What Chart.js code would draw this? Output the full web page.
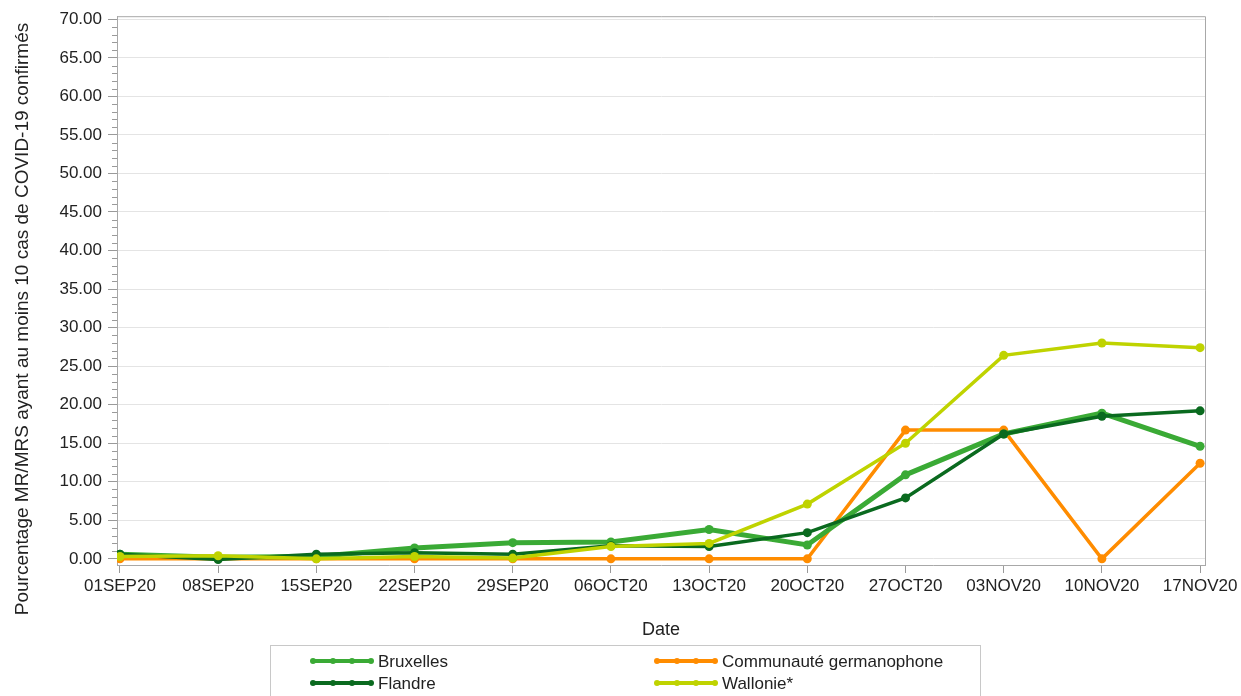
<!DOCTYPE html>
<html>
<head>
<meta charset="utf-8">
<script src="https://cdn.jsdelivr.net/npm/chart.js@4.4.1/dist/chart.umd.min.js"></script>
<style>
html,body{margin:0;padding:0;background:#fff;}
#wrap{position:relative;width:1241px;height:696px;}
</style>
</head>
<body>
<div id="wrap"><canvas id="c" width="1241" height="696"></canvas></div>
<script>
const categories = ['01SEP20','08SEP20','15SEP20','22SEP20','29SEP20','06OCT20','13OCT20','20OCT20','27OCT20','03NOV20','10NOV20','17NOV20'];
const bruxelles    = [0.6, 0.2, 0.3, 1.4, 2.1, 2.2, 3.8, 1.8, 10.9, 16.2, 18.9, 14.6];
const flandre      = [0.6, -0.1, 0.6, 0.8, 0.6, 1.7, 1.6, 3.4, 7.9, 16.2, 18.5, 19.2];
const germanophone = [0.0, 0.0, 0.0, 0.0, 0.0, 0.0, 0.0, 0.0, 16.7, 16.7, 0.0, 12.4];
const wallonie     = [0.3, 0.4, 0.0, 0.3, 0.1, 1.6, 2.0, 7.1, 15.0, 26.4, 28.0, 27.4];
const yTicks = [0,5,10,15,20,25,30,35,40,45,50,55,60,65,70];
const seriesNames = ['Bruxelles','Flandre','Communauté germanophone','Wallonie*'];
const yTitle = 'Pourcentage MR/MRS ayant au moins 10 cas de COVID-19 confirmés';
const xTitle = 'Date';

const FONT = '"Liberation Sans", Arial, sans-serif';
const C_BRU = '#3aaa35', C_FLA = '#0a6a1f', C_GER = '#ff8c00', C_WAL = '#bfd300';

function pts(arr){ return arr.map((v,i)=>({x:i,y:v})); }

const frame = {
  id:'frame',
  beforeDatasetsDraw(chart){
    const {ctx, chartArea:a, scales:{y}} = chart;
    ctx.save();
    ctx.strokeStyle = '#a8a8a8'; ctx.lineWidth = 1;
    ctx.beginPath();
    ctx.moveTo(a.left, a.top+0.5); ctx.lineTo(a.right+0.5, a.top+0.5); ctx.lineTo(a.right+0.5, a.bottom);
    ctx.stroke();
    ctx.strokeStyle = '#9a9a9a';
    ctx.beginPath();
    for(let v=0; v<=70; v++){
      if(v%5===0) continue;
      const py = Math.round(y.getPixelForValue(v))+0.5;
      ctx.moveTo(a.left-5, py); ctx.lineTo(a.left, py);
    }
    ctx.stroke();
    ctx.restore();
  },
  afterDraw(chart){
    const ctx = chart.ctx;
    ctx.save();
    ctx.translate(23, 319);
    ctx.rotate(-Math.PI/2);
    ctx.fillStyle = '#222';
    ctx.font = '19px ' + FONT;
    ctx.textAlign = 'center'; ctx.textBaseline = 'middle';
    ctx.fillText(yTitle, 0, 0);
    ctx.restore();
    ctx.save();
    ctx.strokeStyle = '#c8c8c8'; ctx.lineWidth = 1;
    ctx.strokeRect(270.5, 645.5, 710, 60);
    const ds = chart.data.datasets;
    const entries = [
      {i:0, x:313, y:661}, {i:2, x:657, y:661},
      {i:1, x:313, y:683}, {i:3, x:657, y:683}
    ];
    ctx.font = '17px ' + FONT;
    ctx.textBaseline = 'middle'; ctx.textAlign = 'left';
    entries.forEach(e=>{
      const d = ds[e.i];
      ctx.strokeStyle = d.borderColor; ctx.fillStyle = d.borderColor;
      ctx.lineWidth = 4; ctx.lineCap = 'round';
      ctx.beginPath(); ctx.moveTo(e.x, e.y); ctx.lineTo(e.x+58, e.y); ctx.stroke();
      [0, 20, 39, 58].forEach(dx=>{ ctx.beginPath(); ctx.arc(e.x+dx, e.y, 3, 0, Math.PI*2); ctx.fill(); });
      ctx.fillStyle = '#222';
      ctx.fillText(d.label, e.x+65, e.y+1);
    });
    ctx.restore();
  }
};

new Chart(document.getElementById('c'), {
  type:'line',
  data:{
    datasets:[
      {label:seriesNames[0], data:pts(bruxelles), borderColor:C_BRU, backgroundColor:C_BRU, borderWidth:5, pointRadius:4.5, pointBackgroundColor:C_BRU, pointBorderWidth:0, order:3},
      {label:seriesNames[1], data:pts(flandre), borderColor:C_FLA, backgroundColor:C_FLA, borderWidth:3.5, pointRadius:4.5, pointBackgroundColor:C_FLA, pointBorderWidth:0, order:2},
      {label:seriesNames[2], data:pts(germanophone), borderColor:C_GER, backgroundColor:C_GER, borderWidth:3.5, pointRadius:4.5, pointBackgroundColor:C_GER, pointBorderWidth:0, order:4},
      {label:seriesNames[3], data:pts(wallonie), borderColor:C_WAL, backgroundColor:C_WAL, borderWidth:3.5, pointRadius:4.5, pointBackgroundColor:C_WAL, pointBorderWidth:0, order:1}
    ]
  },
  options:{
    responsive:false, animation:false,
    layout:{padding:{top:14, right:36, bottom:51, left:0}},
    plugins:{legend:{display:false}, tooltip:{enabled:false}},
    elements:{line:{tension:0}},
    scales:{
      x:{
        type:'linear', min:-0.03, max:11.05,
        afterBuildTicks(s){ s.ticks = categories.map((c,i)=>({value:i})); },
        afterFit(s){ s.height = 80; },
        ticks:{ callback:(v)=>categories[v], color:'#222', font:{family:FONT, size:17}, padding:3, maxRotation:0, autoSkip:false },
        grid:{ drawOnChartArea:false, tickLength:8, tickColor:'#9a9a9a' },
        border:{ color:'#a8a8a8' },
        title:{ display:true, text:xTitle, color:'#222', font:{family:FONT, size:18}, padding:{top:5} }
      },
      y:{
        type:'linear', min:-0.8, max:70.4,
        afterBuildTicks(s){ s.ticks = yTicks.map(v=>({value:v})); },
        afterFit(s){ s.width = 117; },
        ticks:{ callback:(v)=>Number(v).toFixed(2), color:'#222', font:{family:FONT, size:17}, padding:6 },
        grid:{ color:'#e4e4e4', lineWidth:1, tickLength:9, tickColor:'#9a9a9a' },
        border:{ color:'#a8a8a8' }
      }
    }
  },
  plugins:[frame]
});
</script>
</body>
</html>
